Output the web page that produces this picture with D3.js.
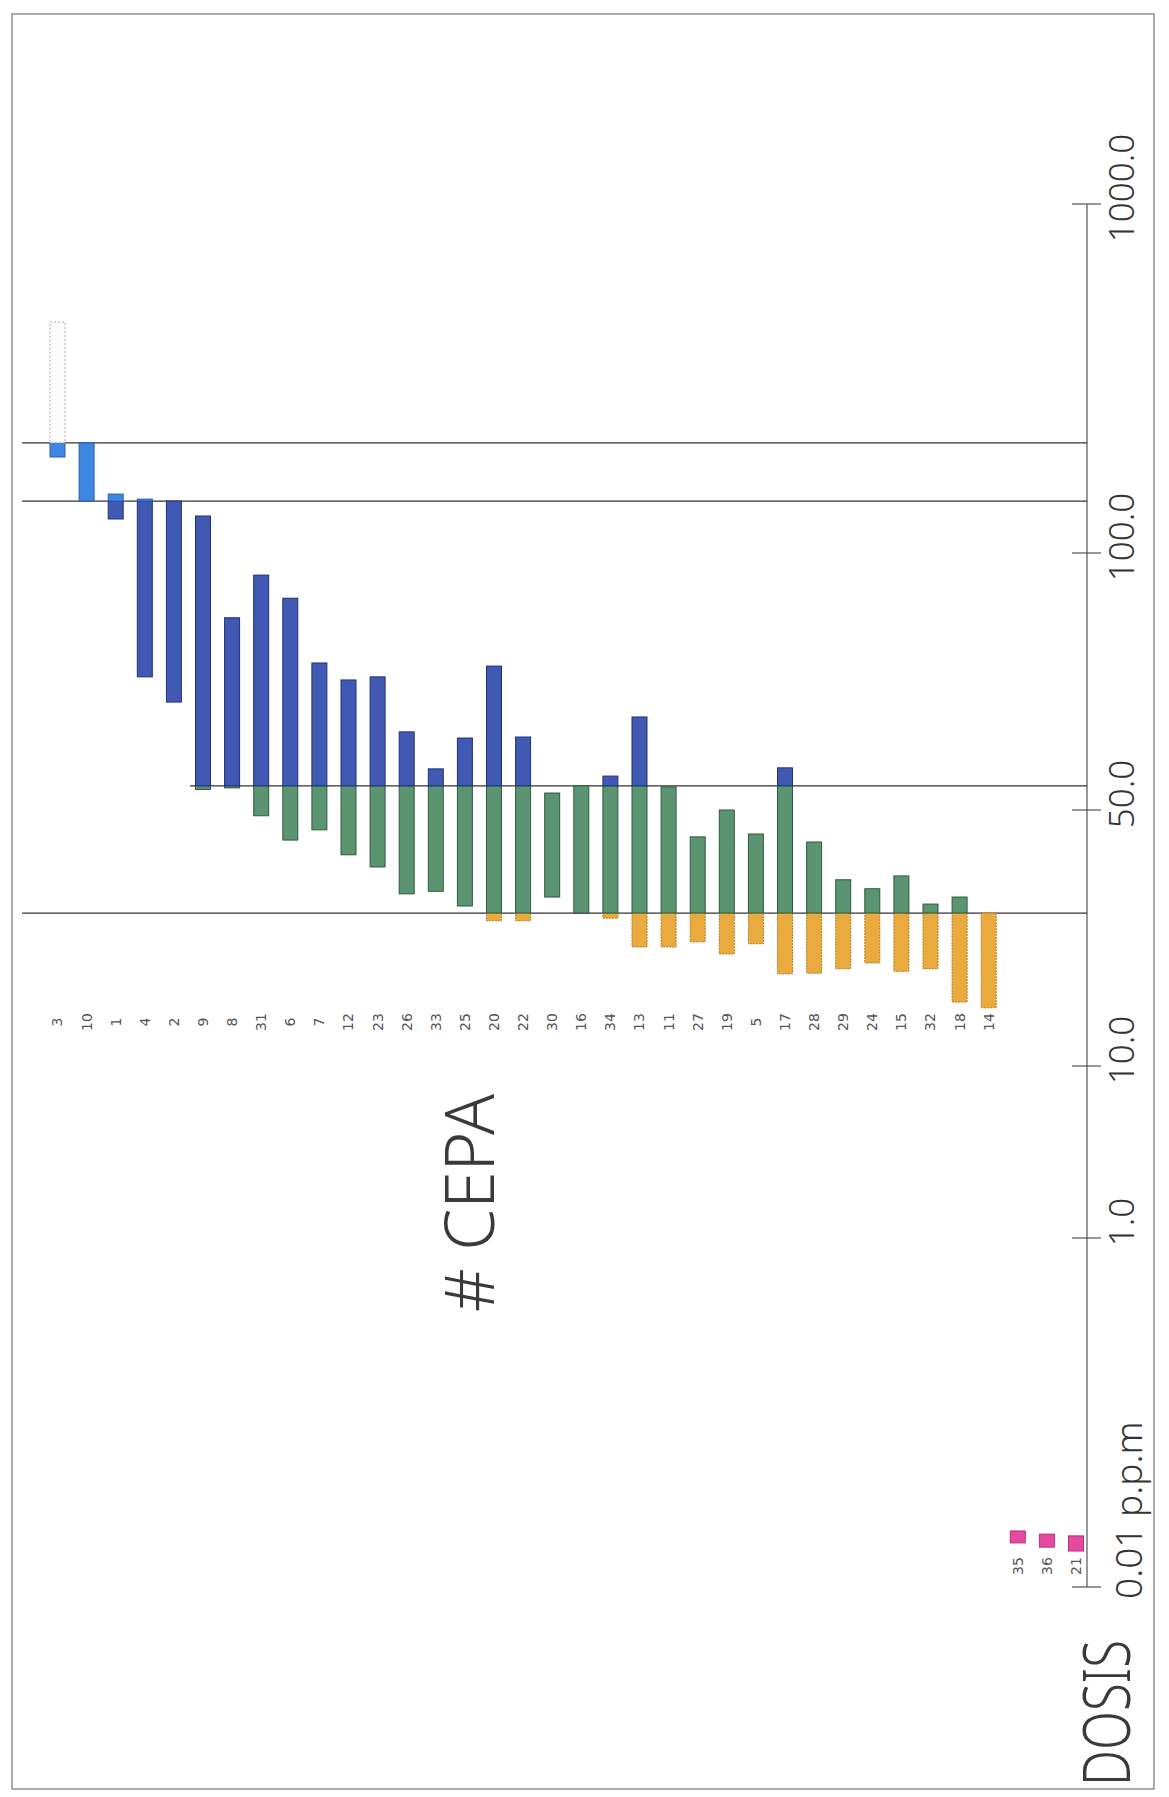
<!DOCTYPE html>
<html>
<head>
<meta charset="utf-8">
<script src="https://cdn.jsdelivr.net/npm/d3@7"></script>
<style>
  html, body { margin: 0; padding: 0; background: #fff; }
  svg { display: block; }
</style>
</head>
<body>
<div id="chart"></div>
<script>
// ---- DATA (values in p.p.m) ----
const mainCats = ["3","10","1","4","2","9","8","31","6","7","12","23","26","33","25","20","22","30","16","34","13","11","27","19","5","17","28","29","24","15","32","18","14"];
const mainLow  = [347.6, 234, 187.7, 75.9, 71.0, 54.0, 54.3, 49.1, 45.3, 46.9, 43.0, 41.1, 36.9, 37.3, 35.0, 32.7, 32.7, 36.4, 33.9, 33.1, 28.6, 28.6, 29.4, 27.5, 29.1, 24.4, 24.5, 25.2, 26.1, 24.8, 25.2, 20.0, 19.1];
const mainHigh = [695.7, 384, 252, 239, 234, 195.4, 87.4, 95.7, 91.2, 78.6, 75.3, 75.9, 65.2, 58.0, 64.0, 78.0, 64.2, 53.3, 54.7, 56.6, 68.1, 54.5, 45.8, 50.0, 46.25, 58.2, 45.0, 39.1, 37.7, 39.7, 35.3, 36.4, 33.9];
const traceCats = ["35","36","21"];
const traceLow  = [0.135, 0.123, 0.112];
const traceHigh = [0.169, 0.160, 0.155];
const thresholds = [33.9, 54.7, 234, 384];
const tickValues = [1000, 100, 50, 10, 1, 0.01];
const tickLabels = ["1000.0", "100.0", "50.0", "10.0", "1.0", "0.01 p.p.m"];
const axisTitle = "DOSIS";
const chartTitle = "# CEPA";

// ---- LAYOUT ----
const W = 1169, H = 1797;
const svg = d3.select("#chart").append("svg").attr("width", W).attr("height", H);
svg.append("rect").attr("width", W).attr("height", H).attr("fill", "#fff");

// frame
svg.append("rect").attr("x", 12).attr("y", 14).attr("width", 1142).attr("height", 1775)
  .attr("fill", "none").attr("stroke", "#777").attr("stroke-width", 1.2);

const allCats = mainCats.concat(traceCats);
const step = 29.1, pIn = 0.485, x0 = 50;
const x = d3.scaleBand().domain(allCats)
  .range([x0, x0 + step * (allCats.length - pIn)])
  .paddingInner(pIn).paddingOuter(0);

// hand-drawn, piecewise value axis
const y = d3.scaleLinear()
  .domain([0.01, 1, 10, 50, 100, 1000])
  .range([1587, 1238, 1066, 810, 553, 204]);

const axisX = 1087;

// threshold lines
const lineStarts = [22, 190, 22, 22];
svg.append("g").selectAll("line").data(thresholds).join("line")
  .attr("x1", (d, i) => lineStarts[i]).attr("x2", axisX)
  .attr("y1", d => y(d)).attr("y2", d => y(d))
  .attr("stroke", "#333").attr("stroke-width", 1.2);

// zones
const bounds = [-Infinity].concat(thresholds, [Infinity]);
const zoneFill   = ["#e9aa3e", "#5a9470", "#4159b3", "#3d86e2", "#fbfbfb"];
const zoneStroke = ["#b47a22", "#2f5a3c", "#1f2f80", "#2c5fb8", "#aaaaaa"];
const zoneDash   = ["2 1", null, null, null, "2 2"];

const segs = [];
mainCats.forEach((c, i) => {
  for (let k = 0; k < zoneFill.length; k++) {
    const lo = Math.max(mainLow[i], bounds[k]);
    const hi = Math.min(mainHigh[i], bounds[k + 1]);
    if (hi > lo && y(lo) - y(hi) > 0.5) segs.push({c, lo, hi, k});
  }
});

const gBars = svg.append("g");
gBars.selectAll("rect.seg").data(segs).join("rect").attr("class", "seg")
  .attr("x", d => x(d.c)).attr("width", x.bandwidth())
  .attr("y", d => y(d.hi)).attr("height", d => y(d.lo) - y(d.hi))
  .attr("fill", d => zoneFill[d.k]).attr("stroke", d => zoneStroke[d.k])
  .attr("stroke-width", 1).attr("stroke-dasharray", d => zoneDash[d.k]);

gBars.selectAll("rect.trace").data(traceCats).join("rect").attr("class", "trace")
  .attr("x", d => x(d)).attr("width", x.bandwidth())
  .attr("y", (d, i) => y(traceHigh[i])).attr("height", (d, i) => y(traceLow[i]) - y(traceHigh[i]))
  .attr("fill", "#e64aa0").attr("stroke", "#b8307a").attr("stroke-width", 1);

// category labels
const labFont = "'DejaVu Sans', 'Liberation Sans', sans-serif";
svg.append("g").selectAll("text").data(mainCats).join("text")
  .attr("transform", d => `translate(${x(d) + x.bandwidth() / 2},1022) rotate(-90)`)
  .attr("text-anchor", "middle").attr("dominant-baseline", "central")
  .attr("font-family", labFont).attr("font-size", 14).attr("fill", "#555")
  .text(d => d);
svg.append("g").selectAll("text").data(traceCats).join("text")
  .attr("transform", d => `translate(${x(d) + x.bandwidth() / 2},1566) rotate(-90)`)
  .attr("text-anchor", "middle").attr("dominant-baseline", "central")
  .attr("font-family", labFont).attr("font-size", 14).attr("fill", "#555")
  .text(d => d);

// value axis
const gAxis = svg.append("g");
gAxis.append("line").attr("x1", axisX).attr("x2", axisX)
  .attr("y1", y(1000)).attr("y2", y(0.01)).attr("stroke", "#444").attr("stroke-width", 1.1);
gAxis.selectAll("line.tick").data(tickValues).join("line").attr("class", "tick")
  .attr("x1", axisX - 15).attr("x2", axisX + 14)
  .attr("y1", d => y(d)).attr("y2", d => y(d))
  .attr("stroke", "#444").attr("stroke-width", 1.1);

const tickFont = "'Noto Sans', 'DejaVu Sans', sans-serif";
gAxis.selectAll("text.tl").data(tickValues).join("text").attr("class", "tl")
  .attr("transform", (d, i) => i < tickValues.length - 1
      ? `translate(1134,${y(d) - 16}) rotate(-90)`
      : `translate(1142,${y(d) + 12}) rotate(-90)`)
  .attr("text-anchor", (d, i) => i < tickValues.length - 1 ? "middle" : "start")
  .attr("font-family", tickFont).attr("font-weight", 300)
  .attr("font-size", (d, i) => i < tickValues.length - 1 ? 35 : 37).attr("fill", "#333")
  .text((d, i) => tickLabels[i]);

// axis title
svg.append("text")
  .attr("transform", "translate(1130,1786) rotate(-90)")
  .attr("font-family", tickFont).attr("font-weight", 300).attr("font-size", 66)
  .attr("textLength", 146).attr("lengthAdjust", "spacingAndGlyphs")
  .attr("fill", "#3a3a3a").text(axisTitle);

// chart title
svg.append("text")
  .attr("transform", "translate(494,1312) rotate(-90)")
  .attr("font-family", tickFont).attr("font-weight", 300).attr("font-size", 68)
  .attr("textLength", 218).attr("lengthAdjust", "spacingAndGlyphs")
  .attr("fill", "#3a3a3a").text(chartTitle);
</script>
</body>
</html>
